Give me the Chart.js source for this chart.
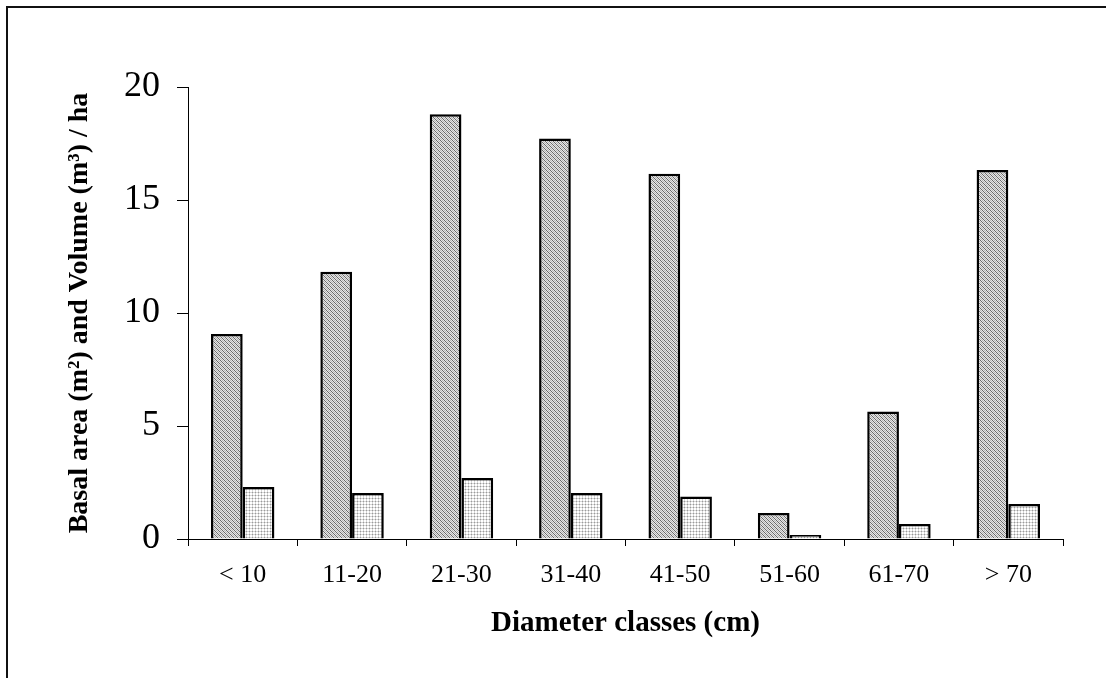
<!DOCTYPE html>
<html>
<head>
<meta charset="utf-8">
<script src="https://cdn.jsdelivr.net/npm/chart.js@4/dist/chart.umd.min.js"></script>
<style>
	html, body { margin: 0; padding: 0; background: #fff; }
	#wrap { width: 1106px; height: 678px; position: relative; }
</style>
</head>
<body>
<div id="wrap"><canvas id="chart"></canvas></div>
<script>
// diameter classes and the two series (per ha)
const classes = ['< 10', '11-20', '21-30', '31-40', '41-50', '51-60', '61-70', '> 70'];
const seriesA = [9.07, 11.83, 18.79, 17.72, 16.16, 1.15, 5.64, 16.33];
const seriesB = [2.30, 2.03, 2.70, 2.03, 1.88, 0.18, 0.66, 1.55];
const yTicks = [0, 5, 10, 15, 20];

// little pixel tiles standing in for the old print hatching
function tile(size, paint) {
	const c = document.createElement('canvas');
	c.width = c.height = size;
	const g = c.getContext('2d');
	g.fillStyle = '#fff';
	g.fillRect(0, 0, size, size);
	for (let y = 0; y < size; y++)
		for (let x = 0; x < size; x++) {
			const col = paint(x, y);
			if (col) { g.fillStyle = col; g.fillRect(x, y, 1, 1); }
		}
	return g.createPattern(c, 'repeat');
}
const ctx = document.getElementById('chart').getContext('2d');
const hatch = tile(4, (x, y) => {
	const d = (x + 4 - y) % 4;
	return d === 0 ? '#6a6a6a' : d === 2 ? '#b4b4b4' : '#e6e6e6';
});
const dots = tile(3, (x, y) => {
	if (x === 0 && y === 0) return '#9a9a9a';
	if (x === 0 || y === 0) return '#d6d6d6';
	return null;
});

const frame = {
	id: 'frame',
	beforeDraw(chart) {
		const g = chart.ctx;
		g.save();
		g.fillStyle = '#fff';
		g.fillRect(0, 0, chart.width, chart.height);
		g.fillStyle = '#111';
		g.fillRect(6, 6, chart.width - 6, 2);
		g.fillRect(6, 6, 2, chart.height - 6);
		g.restore();
	},
};

const serif = 'Liberation Serif';
new Chart(ctx, {
	type: 'bar',
	data: {
		labels: classes,
		datasets: [
			{ label: 'Basal area', data: seriesA, backgroundColor: hatch, borderColor: '#000', borderWidth: 2.5 },
			{ label: 'Volume', data: seriesB, backgroundColor: dots, borderColor: '#000', borderWidth: 2.5 },
		],
	},
	options: {
		responsive: true,
		maintainAspectRatio: false,
		animation: false,
		datasets: { bar: { barPercentage: 1, categoryPercentage: 0.58 } },
		layout: { padding: { top: 87, right: 43, left: 0, bottom: 0 } },
		plugins: { legend: { display: false }, tooltip: { enabled: false } },
		scales: {
			x: {
				afterFit: s => { s.height = 139; },
				grid: { offset: true, drawOnChartArea: false, drawTicks: true, tickLength: 7, tickColor: '#000', lineWidth: 1 },
				border: { color: '#000', width: 1 },
				ticks: { color: '#000', padding: 14, font: { family: serif, size: 26 } },
				title: {
					display: true,
					text: 'Diameter classes (cm)',
					color: '#000',
					font: { family: serif, size: 29, weight: 'bold' },
					padding: { top: 0, bottom: 37 },
				},
			},
			y: {
				min: 0,
				max: 20,
				afterFit: s => { s.width = 188; },
				afterBuildTicks: s => { s.ticks = yTicks.map(v => ({ value: v })); },
				grid: { drawOnChartArea: false, drawTicks: true, tickLength: 11, tickColor: '#000', lineWidth: 1 },
				border: { color: '#000', width: 1 },
				ticks: { color: '#000', padding: 17, font: { family: serif, size: 36 } },
				title: {
					display: true,
					text: 'Basal area (m²) and Volume (m³) / ha',
					color: '#000',
					font: { family: serif, size: 28, weight: 'bold' },
					padding: { top: 63, bottom: 0 },
				},
			},
		},
	},
	plugins: [frame],
});
</script>
</body>
</html>
